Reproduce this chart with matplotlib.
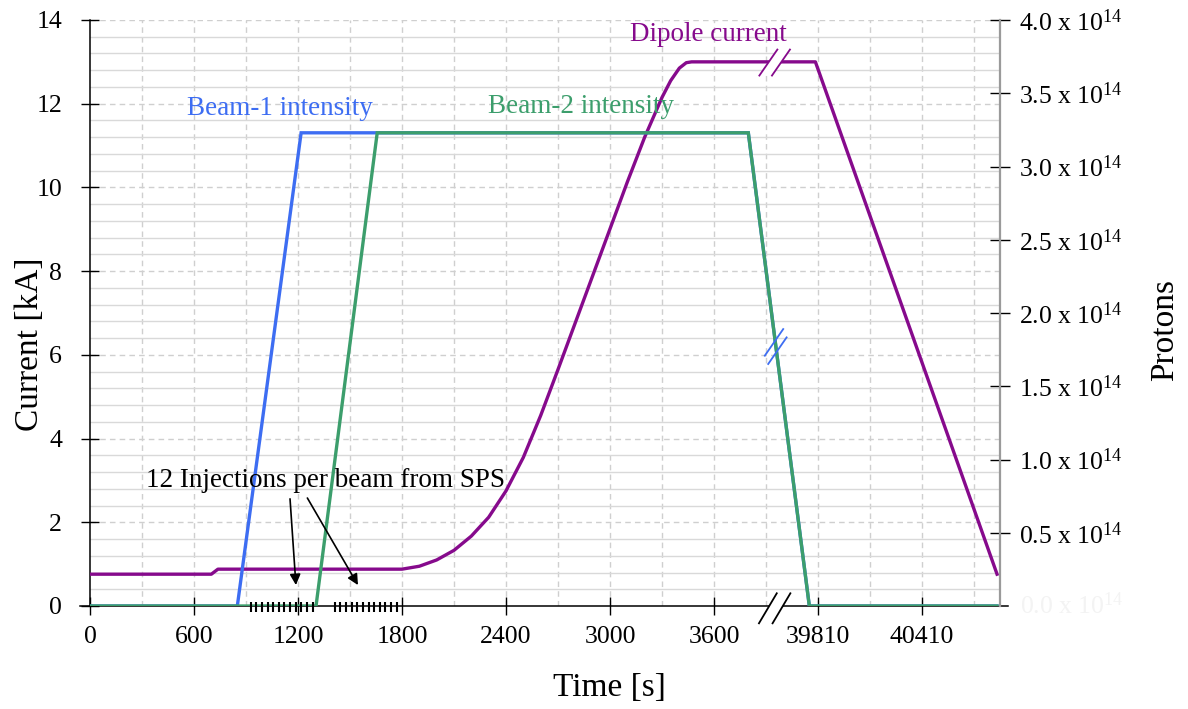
import matplotlib
matplotlib.use("Agg")
import matplotlib.pyplot as plt
from matplotlib.lines import Line2D
from matplotlib.patches import Polygon

plt.rcParams['font.family'] = ['Liberation Serif', 'DejaVu Serif']
plt.rcParams['mathtext.fontset'] = 'custom'
plt.rcParams['mathtext.rm'] = 'Liberation Serif'

# ---------------- data ----------------
# time axis is broken: times after the break are shifted by BREAK_OFFSET
BREAK_OFFSET = 35610      # 39810 s is shown where 4200 s would be
BREAK_AT = 3950           # display position of the break

dipole_t = [0, 700, 738, 1800, 1900, 2000, 2100, 2200, 2300, 2400, 2500, 2600,
            2700, 2800, 2900, 3000, 3100, 3200, 3300, 3350, 3400, 3440, 3471,
            39795, 40843]
dipole_kA = [0.76, 0.76, 0.88, 0.88, 0.95, 1.10, 1.33, 1.67, 2.12, 2.75, 3.55, 4.55,
             5.65, 6.77, 7.89, 9.01, 10.13, 11.20, 12.15, 12.55, 12.85, 12.98, 13.0,
             13.0, 0.76]

beam1_t = [0, 850, 1218, 3798, 39760, 40843]
beam1_p = [0, 0, 3.23, 3.23, 0, 0]          # x 10^14 protons

beam2_t = [0, 1304, 1657, 3798, 39760, 40843]
beam2_p = [0, 0, 3.23, 3.23, 0, 0]          # x 10^14 protons

inj_beam1 = [927, 960, 992, 1025, 1057, 1090, 1122, 1155, 1187, 1220, 1252, 1285]
inj_beam2 = [1413, 1445, 1478, 1510, 1542, 1575, 1607, 1640, 1672, 1704, 1737, 1769]

xtick_times = [0, 600, 1200, 1800, 2400, 3000, 3600, 39810, 40410]
ytick_left = [0, 2, 4, 6, 8, 10, 12, 14]
ytick_right = [0.5, 1.0, 1.5, 2.0, 2.5, 3.0, 3.5, 4.0]

KA_MAX = 14.0
P_MAX = 4.0
U_MAX = 5250

BLUE = '#3d6df2'
GREEN = '#3c9e6c'
PURPLE = '#860a8c'
GRID = '#cfcfcf'


def tx(t):
    """real time -> position on the broken axis"""
    if isinstance(t, (list, tuple)):
        return [tx(v) for v in t]
    return t if t < BREAK_AT else t - BREAK_OFFSET


def p2k(p):
    return [v * KA_MAX / P_MAX for v in p]


W, H = 1188, 709
fig = plt.figure(figsize=(W / 100, H / 100), dpi=100)
L, R, T, B = 90, 1000, 20, 606
ax = fig.add_axes([L / W, 1 - B / H, (R - L) / W, (B - T) / H])
ax.set_xlim(0, U_MAX)
ax.set_ylim(0, KA_MAX)

PXU = U_MAX / (R - L)        # data units per pixel (x)
PXY = KA_MAX / (B - T)       # data units per pixel (y)

# ---------------- grid ----------------
for u in range(300, U_MAX, 300):
    ax.plot([u, u], [0, KA_MAX], color=GRID, lw=1.0, dashes=(4, 3), zorder=0.5)
for i in range(1, 36):
    y = i * 0.4
    if i % 5 == 0:
        ax.plot([0, U_MAX], [y, y], color=GRID, lw=1.0, dashes=(4, 3), zorder=0.5)
    else:
        ax.plot([0, U_MAX], [y, y], color='#d9d9d9', lw=1.0, zorder=0.5)

# ---------------- axes styling ----------------
for s in ['top', 'right', 'bottom']:
    ax.spines[s].set_visible(False)
ax.spines['left'].set_linewidth(1.1)
ax.plot([-58, 5296], [0, 0], color='black', lw=1.1, clip_on=False, zorder=2)

ax.set_xticks(tx(xtick_times))
ax.set_xticklabels([str(t) for t in xtick_times])
ax.set_yticks(ytick_left)
ax.tick_params(axis='both', direction='inout', length=13, width=1.0,
               labelsize=18.5, colors='black')
ax.tick_params(axis='x', pad=8)
ax.tick_params(axis='y', pad=13.5)

ax2 = ax.twinx()
ax2.set_ylim(0, P_MAX)
for s in ['top', 'left', 'bottom']:
    ax2.spines[s].set_visible(False)
ax2.spines['right'].set_color('#9a9a9a')
ax2.spines['right'].set_linewidth(1.6)
ax2.set_yticks(ytick_right)
ax2.set_yticklabels([f'{v:.1f} x $\\mathregular{{10^{{14}}}}$' for v in ytick_right])
ax2.tick_params(axis='y', direction='inout', length=14, width=1.0,
                labelsize=18.5, pad=7)
ax2.text(1.022, 0.0, '0.0 x $\\mathregular{10^{14}}$', transform=ax2.transAxes,
         fontsize=18.5, color='#f3f3f3', va='center', ha='left')

# ---------------- curves ----------------
ax.plot(tx(dipole_t), dipole_kA, color=PURPLE, lw=2.4, zorder=3,
        solid_joinstyle='round')
ax.plot(tx(beam1_t), p2k(beam1_p), color=BLUE, lw=2.4, zorder=3.5,
        solid_joinstyle='miter')
ax.plot(tx(beam2_t), p2k(beam2_p), color=GREEN, lw=2.4, zorder=4,
        solid_joinstyle='miter')

# injection markers
ax.vlines(tx(inj_beam1) + tx(inj_beam2), -0.14, 0.10, color='black', lw=1.5,
          clip_on=False, zorder=5)


# ---------------- break marks ----------------
def break_mark(u, y, offsets, half, color, fill):
    segs = []
    for ox, oy in offsets:
        cu = u + ox * PXU
        cy = y - oy * PXY
        a = (cu - half[0] * PXU, cy + half[1] * PXY)
        b = (cu + half[0] * PXU, cy - half[1] * PXY)
        segs.append((a, b))
    if fill:
        (a1, b1), (a2, b2) = segs
        ax.add_patch(Polygon([a1, b1, b2, a2], closed=True, facecolor='white',
                             edgecolor='none', zorder=6, clip_on=False))
    for a, b in segs:
        ax.add_line(Line2D([a[0], b[0]], [a[1], b[1]], color=color, lw=1.3,
                           zorder=7, clip_on=False))

# half vectors in image pixels (dx, dy) with dy negative = upward
break_mark(BREAK_AT, 0, [(-6.8, 2.3), (6.8, 2.3)], (8.9, -15), 'black', True)
break_mark(BREAK_AT, 13.0, [(-6.3, 0.7), (6.3, 0.7)], (9.0, -13), PURPLE, True)
break_mark(BREAK_AT + 6, 6.2, [(-1.7, -4.1), (1.7, 4.2)], (9.2, -13.3), BLUE, False)

# ---------------- annotations ----------------
ax.annotate('', xy=(1188, 0.50), xytext=(1154, 2.56),
            arrowprops=dict(arrowstyle='-|>', color='black', lw=1.2,
                            mutation_scale=16, shrinkA=0, shrinkB=0), zorder=8)
ax.annotate('', xy=(1546, 0.50), xytext=(1254, 2.58),
            arrowprops=dict(arrowstyle='-|>', color='black', lw=1.2,
                            mutation_scale=16, shrinkA=0, shrinkB=0), zorder=8)
ax.text(1356, 2.85, '12 Injections per beam from SPS', ha='center',
        va='baseline', fontsize=19.5, color='black', zorder=8)

ax.text(1096, 11.73, 'Beam-1 intensity', ha='center', va='baseline',
        fontsize=19.5, color=BLUE, zorder=8)
ax.text(2832, 11.77, 'Beam-2 intensity', ha='center', va='baseline',
        fontsize=19.5, color=GREEN, zorder=8)
ax.text(3568, 13.5, 'Dipole current', ha='center', va='baseline',
        fontsize=19.5, color=PURPLE, zorder=8)

# ---------------- axis labels ----------------
fig.text(30 / W, 1 - 344 / H, 'Current [kA]', rotation=90, ha='center',
         va='center', fontsize=24)
fig.text(609 / W, 1 - 688 / H, 'Time [s]', ha='center', va='center', fontsize=24)
fig.text(1165 / W, 1 - 330 / H, 'Protons', rotation=90, ha='center',
         va='center', fontsize=24)

fig.savefig('out.png', dpi=100)
